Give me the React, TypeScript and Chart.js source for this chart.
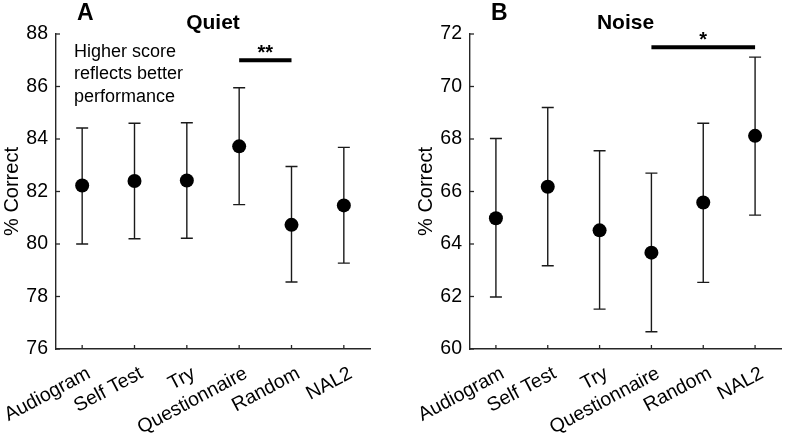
import React, { useEffect, useRef } from 'react';
import { Chart, registerables } from 'chart.js';

Chart.register(...registerables);

const FONT = '"Liberation Sans", Arial, Helvetica, sans-serif';

const categories = ['Audiogram', 'Self Test', 'Try', 'Questionnaire', 'Random', 'NAL2'];

const quietMean = [82.23, 82.4, 82.42, 83.72, 80.73, 81.47];
const quietLower = [80.0, 80.2, 80.22, 81.5, 78.55, 79.27];
const quietUpper = [84.42, 84.6, 84.62, 85.95, 82.95, 83.68];
const quietTicks = [76, 78, 80, 82, 84, 86, 88];
const quietSig = { from: 3, to: 4, y: 87, label: '**' };
const quietNote = ['Higher score', 'reflects better', 'performance'];

const noiseMean = [64.98, 66.18, 64.52, 63.67, 65.58, 68.12];
const noiseLower = [61.98, 63.17, 61.52, 60.66, 62.54, 65.1];
const noiseUpper = [68.02, 69.2, 67.55, 66.7, 68.6, 71.12];
const noiseTicks = [60, 62, 64, 66, 68, 70, 72];
const noiseSig = { from: 3, to: 5, y: 71.5, label: '*' };

const panelPlugin = {
  id: 'panel',
  beforeDatasetsDraw(chart: any, _a: any, opts: any) {
    const { ctx, scales: { x, y } } = chart;
    ctx.save();
    ctx.strokeStyle = '#1a1a1a';
    ctx.lineWidth = 1.4;
    opts.lower.forEach((lo: number, i: number) => {
      const px = x.getPixelForValue(i);
      const y1 = y.getPixelForValue(lo);
      const y2 = y.getPixelForValue(opts.upper[i]);
      ctx.beginPath();
      ctx.moveTo(px, y1);
      ctx.lineTo(px, y2);
      ctx.moveTo(px - 6, y1);
      ctx.lineTo(px + 6, y1);
      ctx.moveTo(px - 6, y2);
      ctx.lineTo(px + 6, y2);
      ctx.stroke();
    });
    ctx.restore();
  },
  afterDraw(chart: any, _a: any, opts: any) {
    const { ctx, chartArea: ca, scales: { x, y } } = chart;
    ctx.save();
    ctx.strokeStyle = '#262626';
    ctx.lineWidth = 1.3;
    y.ticks.forEach((t: any) => {
      const py = y.getPixelForValue(t.value);
      ctx.beginPath();
      ctx.moveTo(ca.left, py);
      ctx.lineTo(ca.left + 4, py);
      ctx.stroke();
    });
    x.ticks.forEach((_t: any, i: number) => {
      const px = x.getPixelForTick(i);
      ctx.beginPath();
      ctx.moveTo(px, ca.bottom);
      ctx.lineTo(px, ca.bottom - 4);
      ctx.stroke();
    });
    // significance bar
    const s = opts.sig;
    const sx1 = x.getPixelForValue(s.from);
    const sx2 = x.getPixelForValue(s.to);
    const sy = y.getPixelForValue(s.y);
    ctx.strokeStyle = '#000';
    ctx.lineWidth = 4;
    ctx.lineCap = 'butt';
    ctx.beginPath();
    ctx.moveTo(sx1, sy);
    ctx.lineTo(sx2, sy);
    ctx.stroke();
    ctx.fillStyle = '#000';
    ctx.textAlign = 'center';
    ctx.textBaseline = 'alphabetic';
    ctx.font = `bold 20px ${FONT}`;
    ctx.fillText(s.label, (sx1 + sx2) / 2, sy - 1);
    // title
    ctx.font = `bold 21px ${FONT}`;
    ctx.fillText(opts.title, (ca.left + ca.right) / 2, 29);
    // panel letter
    ctx.textAlign = 'left';
    ctx.font = `bold 23px ${FONT}`;
    ctx.fillText(opts.letter, ca.left + 21, 20);
    // note
    if (opts.note) {
      ctx.font = `18px ${FONT}`;
      opts.note.forEach((line: string, i: number) => {
        ctx.fillText(line, ca.left + 18, ca.top + 23 + i * 22.3);
      });
    }
    ctx.restore();
  },
};

function buildConfig(p: any): any {
  return {
    type: 'line',
    data: {
      labels: categories,
      datasets: [
        {
          data: p.mean,
          showLine: false,
          pointRadius: 7,
          pointHoverRadius: 7,
          pointBorderWidth: 0,
          pointBackgroundColor: '#000',
          borderColor: '#000',
          backgroundColor: '#000',
        },
      ],
    },
    options: {
      responsive: false,
      animation: false,
      events: [],
      layout: { padding: { top: 34, left: p.padLeft, right: p.padRight, bottom: 0 } },
      plugins: {
        legend: { display: false },
        tooltip: { enabled: false },
        panel: { lower: p.lower, upper: p.upper, sig: p.sig, title: p.title, letter: p.letter, note: p.note },
      },
      scales: {
        x: {
          type: 'category',
          offset: true,
          afterFit: (scale: any) => {
            scale.height = 86;
            scale.paddingLeft = 0;
            scale.paddingRight = 0;
          },
          grid: { display: true, drawOnChartArea: false, drawTicks: false },
          border: { display: true, color: '#262626', width: 1.4 },
          ticks: {
            autoSkip: false,
            minRotation: 28,
            maxRotation: 28,
            padding: 13,
            labelOffset: 7,
            color: '#000',
            font: { family: FONT, size: 19.5 },
          },
        },
        y: {
          min: p.ticks[0],
          max: p.ticks[p.ticks.length - 1],
          afterFit: (scale: any) => { scale.width = 56; },
          afterBuildTicks: (scale: any) => { scale.ticks = p.ticks.map((v: number) => ({ value: v })); },
          grid: { display: true, drawOnChartArea: false, drawTicks: false },
          border: { display: true, color: '#262626', width: 1.4 },
          ticks: {
            padding: 8,
            color: '#000',
            font: { family: FONT, size: 19.5 },
          },
          title: {
            display: true,
            text: '% Correct',
            color: '#000',
            padding: { top: 0, bottom: 0 },
            font: { family: FONT, size: 20 },
          },
        },
      },
    },
    plugins: [panelPlugin],
  };
}

function Panel({ left, params }: { left: number; params: any }) {
  const ref = useRef<HTMLCanvasElement | null>(null);
  useEffect(() => {
    const chart = new Chart(ref.current as HTMLCanvasElement, buildConfig(params));
    return () => chart.destroy();
  }, []);
  return (
    <canvas
      ref={ref}
      width={394}
      height={435}
      style={{ position: 'absolute', left, top: 0, width: 394, height: 435 }}
    />
  );
}

export default function App() {
  return (
    <div style={{ position: 'absolute', left: 0, top: 0, width: 788, height: 435, background: '#fff', overflow: 'hidden' }}>
      <Panel
        left={0}
        params={{
          mean: quietMean, lower: quietLower, upper: quietUpper, ticks: quietTicks,
          sig: quietSig, title: 'Quiet', letter: 'A', note: quietNote, padLeft: 0, padRight: 24,
        }}
      />
      <Panel
        left={394}
        params={{
          mean: noiseMean, lower: noiseLower, upper: noiseUpper, ticks: noiseTicks,
          sig: noiseSig, title: 'Noise', letter: 'B', note: null, padLeft: 20, padRight: 4,
        }}
      />
    </div>
  );
}
